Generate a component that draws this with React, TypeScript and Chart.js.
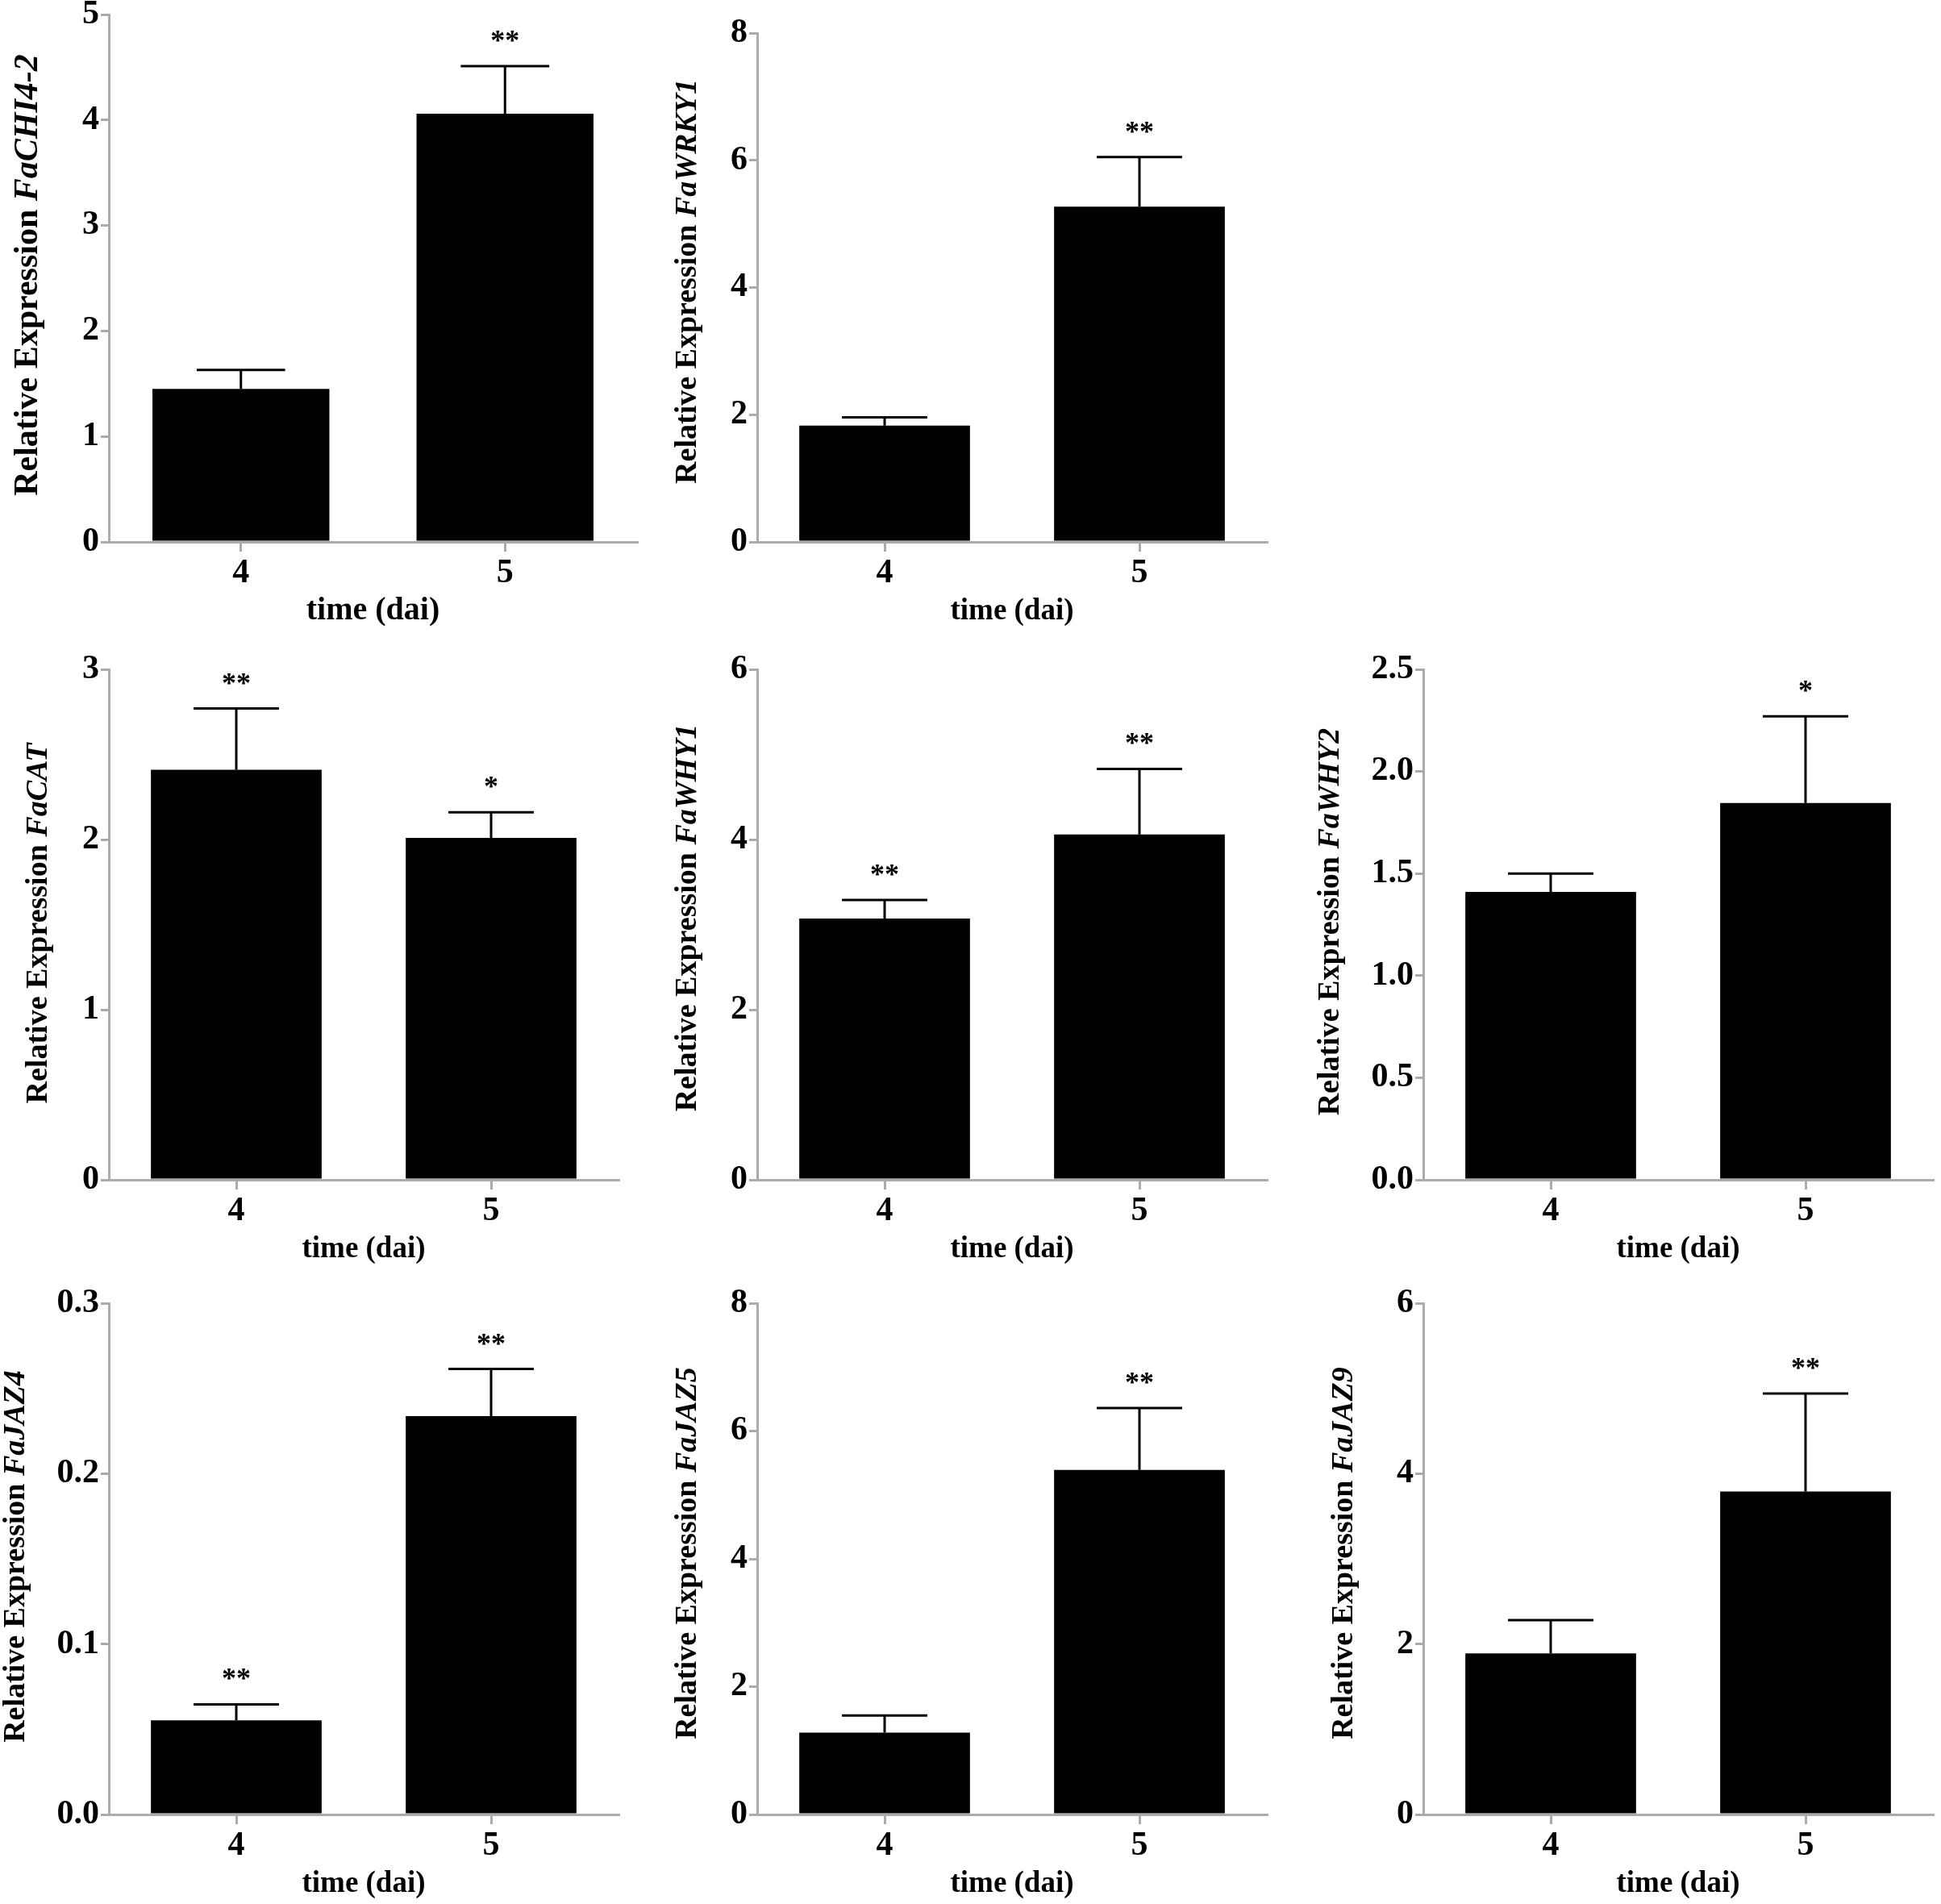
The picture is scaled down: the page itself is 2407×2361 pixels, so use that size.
import React, { useEffect, useRef } from 'react';
import { Chart, registerables } from 'chart.js';

Chart.register(...registerables);

// ---------- DATA ----------
const categories = ['4', '5'];

const genes = ['FaCHI4-2', 'FaWRKY1', 'FaCAT', 'FaWHY1', 'FaWHY2', 'FaJAZ4', 'FaJAZ5', 'FaJAZ9'];

const meanCHI42 = [1.45, 4.06];
const errCHI42 = [0.18, 0.45];
const sigCHI42 = ['', '**'];

const meanWRKY1 = [1.83, 5.27];
const errWRKY1 = [0.13, 0.78];
const sigWRKY1 = ['', '**'];

const meanCAT = [2.41, 2.01];
const errCAT = [0.36, 0.15];
const sigCAT = ['**', '*'];

const meanWHY1 = [3.07, 4.06];
const errWHY1 = [0.22, 0.77];
const sigWHY1 = ['**', '**'];

const meanWHY2 = [1.41, 1.845];
const errWHY2 = [0.09, 0.425];
const sigWHY2 = ['', '*'];

const meanJAZ4 = [0.0552, 0.2338];
const errJAZ4 = [0.0094, 0.0276];
const sigJAZ4 = ['**', '**'];

const meanJAZ5 = [1.28, 5.39];
const errJAZ5 = [0.27, 0.97];
const sigJAZ5 = ['', '**'];

const meanJAZ9 = [1.89, 3.79];
const errJAZ9 = [0.39, 1.15];
const sigJAZ9 = ['', '**'];

const yMaxes = [5, 8, 3, 6, 2.5, 0.3, 8, 6];
const ySteps = [1, 2, 1, 2, 0.5, 0.1, 2, 2];
const yDecimals = [0, 0, 0, 0, 1, 1, 0, 0];

const xTitle = 'time (dai)';
const yTitlePrefix = 'Relative Expression ';

const means = [meanCHI42, meanWRKY1, meanCAT, meanWHY1, meanWHY2, meanJAZ4, meanJAZ5, meanJAZ9];
const errs = [errCHI42, errWRKY1, errCAT, errWHY1, errWHY2, errJAZ4, errJAZ5, errJAZ9];
const sigs = [sigCHI42, sigWRKY1, sigCAT, sigWHY1, sigWHY2, sigJAZ4, sigJAZ5, sigJAZ9];

// ---------- LAYOUT (page pixels) ----------
// axis left/right/top/bottom, y-title centre (tx, ty), y-title font size, x-title font size
const panelLayout = [
  { l: 135, r: 790, t: 18, b: 672, tx: 35, ty: 341, ys: 42, xs: 40 },
  { l: 939, r: 1571, t: 41, b: 672, tx: 853, ty: 349, ys: 38, xs: 37 },
  { l: 135, r: 767, t: 830, b: 1463, tx: 48, ty: 1145, ys: 38, xs: 37 },
  { l: 939, r: 1571, t: 830, b: 1463, tx: 853, ty: 1138, ys: 38, xs: 37 },
  { l: 1765, r: 2397, t: 830, b: 1463, tx: 1650, ty: 1143, ys: 38, xs: 37 },
  { l: 135, r: 767, t: 1616, b: 2250, tx: 20, ty: 1930, ys: 38, xs: 37 },
  { l: 939, r: 1571, t: 1616, b: 2250, tx: 853, ty: 1926, ys: 38, xs: 37 },
  { l: 1765, r: 2397, t: 1616, b: 2250, tx: 1667, ty: 1926, ys: 38, xs: 37 },
];

const FONT = '"Liberation Serif", "Times New Roman", serif';
const AXIS_COLOR = '#ababab';
const Y_AXIS_W = 135;
const X_AXIS_H = 130;
const RIGHT_PAD = 10;
const TOP_PAD = 70;

function Panel({ idx }: { idx: number }) {
  const ref = useRef<HTMLCanvasElement | null>(null);
  const lay = panelLayout[idx];
  const cx = lay.l - Y_AXIS_W;
  const cy = lay.t - TOP_PAD;
  const cw = lay.r - lay.l + Y_AXIS_W + RIGHT_PAD;
  const ch = lay.b - cy + X_AXIS_H;

  useEffect(() => {
    if (!ref.current) return;
    const gene = genes[idx];
    const mean = means[idx];
    const err = errs[idx];
    const sig = sigs[idx];
    const dec = yDecimals[idx];

    const overlay = {
      id: 'overlay' + idx,
      afterDatasetsDraw(chart: any) {
        const ctx = chart.ctx as CanvasRenderingContext2D;
        const ys = chart.scales.y;
        const meta = chart.getDatasetMeta(0);
        ctx.save();
        ctx.strokeStyle = '#000';
        ctx.lineWidth = 3;
        meta.data.forEach((bar: any, i: number) => {
          const x = bar.x;
          const w = bar.width;
          const yTop = ys.getPixelForValue(mean[i]);
          const yCap = ys.getPixelForValue(mean[i] + err[i]);
          ctx.beginPath();
          ctx.moveTo(x, yTop);
          ctx.lineTo(x, yCap);
          ctx.moveTo(x - w * 0.25, yCap);
          ctx.lineTo(x + w * 0.25, yCap);
          ctx.stroke();
          if (sig[i]) {
            ctx.fillStyle = '#000';
            ctx.font = 'bold 36px ' + FONT;
            ctx.textAlign = 'center';
            ctx.textBaseline = 'alphabetic';
            ctx.fillText(sig[i], x, yCap - 20);
          }
        });
        ctx.restore();
      },
      afterDraw(chart: any) {
        const ctx = chart.ctx as CanvasRenderingContext2D;
        const area = chart.chartArea;
        ctx.save();
        ctx.fillStyle = '#000';
        // x title
        ctx.font = 'bold ' + lay.xs + 'px ' + FONT;
        ctx.textAlign = 'center';
        ctx.textBaseline = 'middle';
        ctx.fillText(xTitle, (area.left + area.right) / 2, area.bottom + 86);
        // y title (upright prefix + italic gene name)
        const fontA = 'bold ' + lay.ys + 'px ' + FONT;
        const fontB = 'italic bold ' + lay.ys + 'px ' + FONT;
        ctx.font = fontA;
        const wA = ctx.measureText(yTitlePrefix).width;
        ctx.font = fontB;
        const wB = ctx.measureText(gene).width;
        const total = wA + wB;
        ctx.translate(lay.tx - cx, lay.ty - cy);
        ctx.rotate(-Math.PI / 2);
        ctx.textAlign = 'left';
        ctx.textBaseline = 'middle';
        ctx.font = fontA;
        ctx.fillText(yTitlePrefix, -total / 2, 0);
        ctx.font = fontB;
        ctx.fillText(gene, -total / 2 + wA, 0);
        ctx.restore();
      },
    };

    const chart = new Chart(ref.current, {
      type: 'bar',
      data: {
        labels: categories,
        datasets: [
          {
            data: mean,
            backgroundColor: '#000',
            borderWidth: 0,
            barPercentage: 0.67,
            categoryPercentage: 1.0,
          },
        ],
      },
      options: {
        animation: false,
        responsive: false,
        devicePixelRatio: 1,
        events: [],
        layout: {
          padding: { top: TOP_PAD, right: RIGHT_PAD, bottom: 0, left: 0 },
        },
        plugins: {
          legend: { display: false },
          tooltip: { enabled: false },
          title: { display: false },
        },
        scales: {
          x: {
            type: 'category',
            offset: true,
            grid: {
              offset: false,
              drawOnChartArea: false,
              drawTicks: true,
              tickLength: 12,
              color: AXIS_COLOR,
              lineWidth: 3,
            },
            border: { display: true, color: AXIS_COLOR, width: 3 },
            ticks: {
              color: '#000',
              font: { family: FONT, size: 42, weight: 'bold' },
              padding: 2,
              maxRotation: 0,
            },
            afterFit(scale: any) {
              scale.height = X_AXIS_H;
            },
          },
          y: {
            min: 0,
            max: yMaxes[idx],
            grid: {
              drawOnChartArea: false,
              drawTicks: true,
              tickLength: 10,
              color: AXIS_COLOR,
              lineWidth: 3,
            },
            border: { display: true, color: AXIS_COLOR, width: 3 },
            ticks: {
              stepSize: ySteps[idx],
              color: '#000',
              font: { family: FONT, size: 42, weight: 'bold' },
              padding: 2,
              callback: (v: any) => Number(v).toFixed(dec),
            },
            afterFit(scale: any) {
              scale.width = Y_AXIS_W;
            },
          },
        },
      },
      plugins: [overlay],
    } as any);
    return () => chart.destroy();
  }, [idx]);

  return (
    <canvas
      ref={ref}
      width={cw}
      height={ch}
      style={{ position: 'absolute', left: cx, top: cy, width: cw, height: ch }}
    />
  );
}

export default function App() {
  return (
    <div
      style={{
        position: 'absolute',
        left: 0,
        top: 0,
        width: 2407,
        height: 2361,
        background: '#fff',
        overflow: 'hidden',
      }}
    >
      {genes.map((g, i) => (
        <Panel key={g} idx={i} />
      ))}
    </div>
  );
}
